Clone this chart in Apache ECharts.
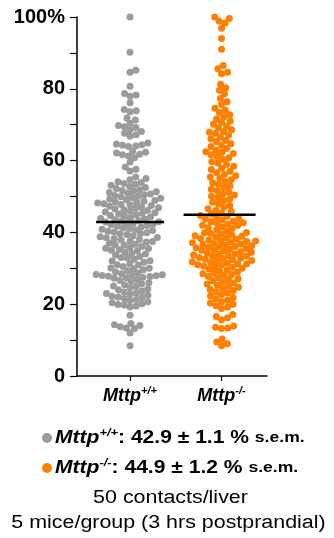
<!DOCTYPE html>
<html>
<head>
<meta charset="utf-8">
<script src="https://cdn.jsdelivr.net/npm/echarts@6/dist/echarts.min.js"></script>
<style>
  html, body { margin: 0; padding: 0; background: #fff; }
  #chart { width: 334px; height: 538px; }
</style>
</head>
<body>
<div id="chart"></div>
<script>
// group labels and summary values
const groups = ['+/+', '-/-']
const means = [42.9, 44.9]
const sems = [1.1, 1.2]
const yTicks = [0, 20, 40, 60, 80, 100]

// contact values (%)
const wildType = [
    100.0, 90.2, 85.2, 84.6, 80.7, 78.7, 78.3, 77.9, 76.1, 74.2, 73.9, 73.6,
    71.9, 71.3, 70.4, 69.8, 69.4, 69.2, 68.6, 68.1, 67.6, 67.2, 66.8,
    64.9, 64.6, 64.4, 64.3, 64.1, 63.9, 62.6, 62.3, 62.1, 61.8, 61.6, 61.3, 60.8,
    59.6, 58.2, 57.6, 57.1, 55.4, 55.0, 54.7, 54.1, 53.9, 53.6, 53.4, 53.1,
    52.8, 52.5, 52.2, 51.9, 51.7, 51.5, 51.3, 51.1, 50.9, 50.7, 50.5, 50.3, 50.1,
    49.9, 49.7, 49.5, 49.3, 49.1, 48.9, 48.7, 48.5, 48.2, 48.0, 47.8, 47.5, 47.3,
    47.1, 46.9, 46.7, 46.5, 46.3, 46.1, 45.9, 45.7, 45.5, 45.3, 45.1, 47.7, 48.4,
    44.9, 44.7, 44.5, 44.3, 44.1, 43.9, 43.7, 43.5, 43.3, 43.1, 42.9, 42.7, 42.5,
    42.3, 42.1, 41.9, 41.7, 41.5, 41.3, 41.1, 40.9, 40.7, 40.5, 40.3, 40.1, 43.0,
    39.9, 39.7, 39.4, 39.1, 38.8, 38.5, 38.2, 37.9, 37.6, 37.3, 37.0, 36.7, 36.4,
    36.1, 35.8, 35.5, 35.2, 35.0, 39.6, 38.6, 37.5, 36.5, 35.6, 38.0,
    34.9, 34.5, 34.1, 33.7, 33.3, 32.9, 32.5, 32.1, 31.7, 31.3, 30.9, 30.5, 30.1,
    34.0, 33.0, 32.0, 31.0, 30.0,
    29.9, 29.6, 29.3, 29.0, 28.7, 28.5, 28.3, 28.1, 28.0, 27.9, 27.8, 27.7,
    27.5, 27.2, 26.9, 26.6, 26.3, 26.0, 25.7, 25.4, 25.1, 28.2, 27.4,
    24.9, 24.6, 24.3, 24.0, 23.7, 23.4, 23.1, 22.8, 22.5, 22.2, 21.9, 21.6, 21.3, 21.0,
    20.7, 20.4, 20.1, 22.0, 23.0,
    19.8, 19.5, 19.2, 16.9, 19.9,
    14.6, 14.3, 14.1, 13.7, 13.4, 13.2, 12.0,
    8.4
]

const knockout = [
    100.0, 99.6, 98.8, 98.3, 96.9, 94.0, 91.0, 86.5, 85.6, 84.6, 84.2, 81.3, 80.3,
    79.6, 78.6, 77.3, 76.4, 75.6,
    74.6, 74.0, 73.4, 72.8, 72.2, 71.6, 71.0, 70.6, 70.1,
    69.6, 69.1, 68.6, 68.1, 67.6, 67.1, 66.6, 66.1, 65.6, 65.3, 67.9,
    64.7, 64.3, 63.9, 63.4, 62.9, 62.5, 62.0, 61.6, 61.2, 60.8, 60.4, 62.3,
    59.7, 59.3, 58.9, 58.4, 57.9, 57.5, 57.0, 56.6, 56.2, 55.8, 55.4, 55.1,
    54.7, 54.2, 53.8, 53.4, 52.9, 52.5, 52.0, 51.6, 51.2, 50.8, 50.4, 50.1,
    49.7, 49.3, 48.9, 48.4, 47.9, 47.5, 47.0, 46.6, 46.2, 45.8, 45.4, 45.1,
    44.7, 44.3, 43.9, 43.5, 43.1, 42.7, 42.3, 41.9, 41.5, 41.1, 40.7, 40.3, 40.0,
    42.0, 43.0, 41.3, 44.5, 43.7, 42.5,
    39.9, 39.7, 39.5, 39.3, 39.1, 38.9, 38.7, 38.5, 38.3, 38.1, 37.9, 37.7, 37.5,
    37.3, 37.1, 36.9, 36.7, 36.5, 36.3, 36.1, 35.9, 35.7, 35.5, 35.3, 35.1,
    37.6, 36.8, 36.0, 35.0,
    34.8, 34.5, 34.2, 33.9, 33.6, 33.3, 33.0, 32.7, 32.4, 32.1, 31.8, 31.5, 31.2,
    30.9, 30.6, 30.3, 30.0, 34.6, 34.0, 33.4, 32.8, 32.2, 31.6, 31.0, 30.4, 33.7,
    32.5, 31.3,
    29.8, 29.5, 29.2, 28.9, 28.6, 28.3, 28.0, 27.7, 27.4, 27.1, 26.8, 26.5, 26.2,
    25.9, 25.6, 25.3, 25.0, 28.5,
    24.7, 24.4, 24.1, 23.8, 23.5, 23.1, 22.7, 22.3, 21.9, 21.5, 21.1, 20.7, 20.3, 20.0,
    19.6, 19.2, 18.8, 17.1, 16.6, 16.2, 15.7,
    13.9, 13.6, 13.4, 13.2, 10.3, 9.5, 9.0, 8.4
]

const GREY = '#9b9b9b'
const ORANGE = '#ff7f00'
const FONT = '"Liberation Sans", Arial, sans-serif'

// plot box in pixels
const gridLeft = 77, gridTop = 17, gridW = 190, gridH = 359
const xMin = -0.58, xMax = 1.497
const pxPerY = gridH / 100
const pxPerX = gridW / (xMax - xMin)

// simple beeswarm: put each dot as close to the centre as it can go
function swarm(values, dist) {
    const order = values.map((v, i) => i).sort((a, b) => values[a] - values[b])
    const placed = []
    const offs = new Array(values.length)
    for (const i of order) {
        const y = values[i] * pxPerY
        const near = placed.filter(p => Math.abs(p.y - y) < dist)
        const cands = [0]
        near.forEach(p => {
            const dx = Math.sqrt(dist * dist - (p.y - y) * (p.y - y))
            cands.push(p.x + dx + 0.01, p.x - dx - 0.01)
        })
        cands.sort((a, b) => Math.abs(a) - Math.abs(b))
        let x = 0
        for (const c of cands) {
            if (near.every(p => (p.x - c) ** 2 + (p.y - y) ** 2 >= dist * dist - 0.001)) {
                x = c
                break
            }
        }
        placed.push({ x, y })
        offs[i] = x
    }
    return offs
}

function swarmData(values, centre) {
    const offs = swarm(values, 6.2)
    return values.map((v, i) => [centre + offs[i] / pxPerX, v])
}

const chart = echarts.init(document.getElementById('chart'), null, { renderer: 'canvas' })

const labelRich = {
    i: { fontFamily: FONT, fontSize: 18, fontStyle: 'italic', fontWeight: 'bold', color: '#000', lineHeight: 22 },
    s: { fontFamily: FONT, fontSize: 11, fontStyle: 'italic', fontWeight: 'bold', color: '#000', verticalAlign: 'top', lineHeight: 22 }
}

const meanHalf = [[34, 34], [38, 34]]

chart.setOption({
    animation: false,
    grid: { left: gridLeft, top: gridTop, width: gridW, height: gridH },
    xAxis: {
        type: 'value',
        min: xMin,
        max: xMax,
        axisLine: { onZero: false, lineStyle: { color: '#000', width: 1.5 } },
        axisTick: { customValues: [0, 1], length: 5, lineStyle: { color: '#000', width: 1.2 } },
        axisLabel: {
            customValues: [0, 1],
            margin: 9,
            formatter: v => '{i|Mttp}{s|' + groups[Math.round(v)] + '}',
            rich: labelRich
        },
        splitLine: { show: false }
    },
    yAxis: {
        type: 'value',
        min: 0,
        max: 100,
        interval: 10,
        axisLine: { show: true, onZero: false, lineStyle: { color: '#000', width: 1.5 } },
        axisTick: { show: true, length: 7, lineStyle: { color: '#000', width: 1.2 } },
        axisLabel: {
            margin: 12,
            fontFamily: FONT,
            fontSize: 20,
            fontWeight: 'bold',
            color: '#000',
            formatter: v => yTicks.includes(v) ? (v === 100 ? '100%' : String(v)) : ''
        },
        splitLine: { show: false }
    },
    series: [
        {
            type: 'scatter',
            data: swarmData(wildType, 0),
            symbolSize: 7,
            itemStyle: { color: GREY, opacity: 1 },
            z: 2
        },
        {
            type: 'scatter',
            data: swarmData(knockout, 1),
            symbolSize: 7,
            itemStyle: { color: ORANGE, opacity: 1 },
            z: 2
        },
        {
            type: 'custom',
            data: means.map((m, i) => [i, m]),
            z: 5,
            renderItem: (params, api) => {
                const c = api.coord([api.value(0), api.value(1)])
                const hw = meanHalf[params.dataIndex]
                return {
                    type: 'line',
                    shape: { x1: c[0] - hw[0], y1: c[1], x2: c[0] + hw[1], y2: c[1] },
                    style: { stroke: '#000', lineWidth: 2.5 }
                }
            }
        }
    ],
    graphic: [
        { type: 'circle', shape: { cx: 47, cy: 438, r: 5 }, style: { fill: GREY } },
        { type: 'circle', shape: { cx: 47, cy: 468, r: 5 }, style: { fill: ORANGE } },
        ...[0, 1].map(i => ({
            type: 'text',
            x: 55,
            y: 438 + i * 30,
            scaleX: 1.17,
            style: {
                text: '{i|Mttp}{s|' + groups[i] + '}{b|: ' + means[i].toFixed(1) + ' ± ' + sems[i].toFixed(1) + ' % }{c|s.e.m.}',
                align: 'left',
                verticalAlign: 'middle',
                rich: {
                    i: { fontFamily: FONT, fontSize: 18, fontStyle: 'italic', fontWeight: 'bold', fill: '#000', lineHeight: 22 },
                    s: { fontFamily: FONT, fontSize: 11, fontStyle: 'italic', fontWeight: 'bold', fill: '#000', verticalAlign: 'top', lineHeight: 22 },
                    b: { fontFamily: FONT, fontSize: 18, fontWeight: 'bold', fill: '#000', lineHeight: 22 },
                    c: { fontFamily: FONT, fontSize: 15, fontWeight: 'bold', fill: '#000', lineHeight: 22 }
                }
            }
        })),
        {
            type: 'text',
            x: 170.5,
            y: 498,
            scaleX: 1.19,
            style: { text: '50 contacts/liver', font: '18px ' + FONT, fill: '#000', align: 'center', verticalAlign: 'middle' }
        },
        {
            type: 'text',
            x: 168.5,
            y: 523,
            scaleX: 1.19,
            style: { text: '5 mice/group (3 hrs postprandial)', font: '18px ' + FONT, fill: '#000', align: 'center', verticalAlign: 'middle' }
        }
    ]
})
</script>
</body>
</html>
